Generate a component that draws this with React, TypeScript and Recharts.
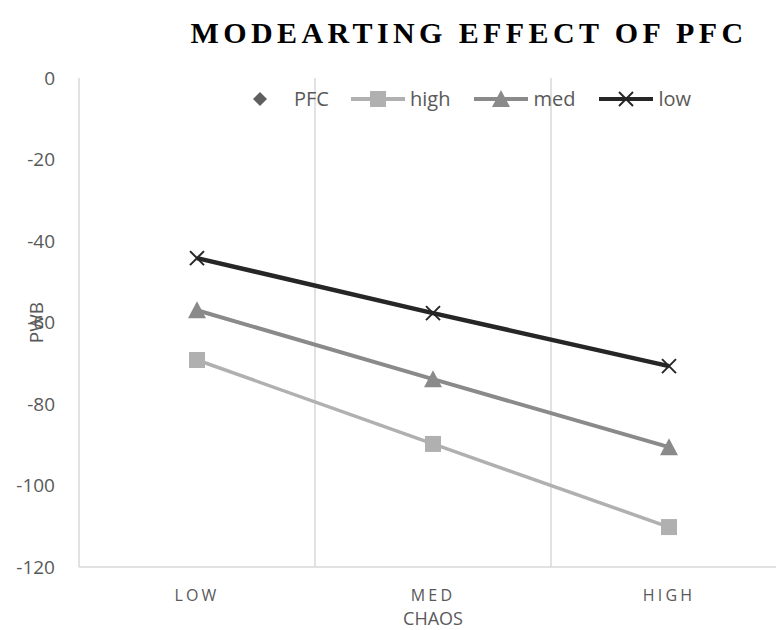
import React from 'react';
import { LineChart, Line, XAxis, YAxis, ReferenceLine, Legend } from 'recharts';

const categories = ['LOW', 'MED', 'HIGH'];
const highValues = [-69.2, -89.8, -110.2];
const medValues = [-57.0, -73.9, -90.6];
const lowValues = [-44.2, -57.7, -70.7];
const yTicks = [0, -20, -40, -60, -80, -100, -120];
const seriesOrder = ['PFC', 'high', 'med', 'low'];
const titleText = 'MODEARTING EFFECT OF PFC';
const xTitle = 'CHAOS';
const yTitle = 'PWB';

const data = categories.map((c, i) => ({
  x: i + 0.5,
  name: c,
  high: highValues[i],
  med: medValues[i],
  low: lowValues[i],
}));
const categoryPositions = categories.map((_, i) => i + 0.5);
const boundaries = categories.slice(1).map((_, i) => i + 1);

const AXIS = '#d9d9d9';
const TEXT = '#595959';
const FONT = '"Open Sans", sans-serif';

const COLORS: Record<string, string> = {
  PFC: '#5f5f5f',
  high: '#b0b0b0',
  med: '#8a8a8a',
  low: '#262626',
};

const Marker = ({ kind, cx, cy, color }: { kind: string; cx: number; cy: number; color: string }) => {
  if (kind === 'high') {
    return <rect x={cx - 8} y={cy - 8} width={16} height={16} fill={color} />;
  }
  if (kind === 'med') {
    return <polygon points={`${cx},${cy - 9} ${cx + 9},${cy + 8} ${cx - 9},${cy + 8}`} fill={color} />;
  }
  if (kind === 'low') {
    return (
      <g stroke={color} strokeWidth={2}>
        <line x1={cx - 7} y1={cy - 7} x2={cx + 7} y2={cy + 7} />
        <line x1={cx - 7} y1={cy + 7} x2={cx + 7} y2={cy - 7} />
      </g>
    );
  }
  return <polygon points={`${cx},${cy - 7} ${cx + 7},${cy} ${cx},${cy + 7} ${cx - 7},${cy}`} fill={color} />;
};

const makeDot = (kind: string) => (props: any) => {
  if (props.cx == null || props.cy == null) return <g key={`${kind}-${props.index}`} />;
  return (
    <g key={`${kind}-${props.index}`}>
      <Marker kind={kind} cx={props.cx} cy={props.cy} color={COLORS[kind]} />
    </g>
  );
};

const LegendContent = (props: any) => {
  const payload = [...(props.payload || [])].sort(
    (a: any, b: any) => seriesOrder.indexOf(a.value) - seriesOrder.indexOf(b.value)
  );
  return (
    <div style={{ display: 'flex', alignItems: 'center', fontFamily: FONT, fontSize: 20, color: TEXT }}>
      {payload.map((p: any) => {
        const name = p.value as string;
        const isPfc = name === 'PFC';
        return (
          <div key={name} style={{ display: 'flex', alignItems: 'center', marginRight: isPfc ? 22 : 24 }}>
            <svg width={isPfc ? 22 : 54} height={24} style={{ marginRight: isPfc ? 22 : 5 }}>
              {!isPfc && <line x1={0} y1={12} x2={54} y2={12} stroke={COLORS[name]} strokeWidth={4} />}
              <Marker kind={name} cx={isPfc ? 10 : 27} cy={12} color={COLORS[name]} />
            </svg>
            <span>{name}</span>
          </div>
        );
      })}
    </div>
  );
};

const YLabel = (props: any) => {
  const vb = props.viewBox || { x: 0, y: 0, width: 0, height: 0 };
  const cx = 36;
  const cy = vb.y + vb.height / 2;
  return (
    <text
      x={cx}
      y={cy}
      transform={`rotate(-90 ${cx} ${cy})`}
      textAnchor="middle"
      dominantBaseline="central"
      fill={TEXT}
      fontSize={19}
      fontFamily={FONT}
    >
      {yTitle}
    </text>
  );
};

export default function App() {
  return (
    <div style={{ position: 'absolute', left: 0, top: 0, width: 776, height: 630, overflow: 'hidden', background: '#fff' }}>
      <div
        style={{
          position: 'absolute',
          top: 16,
          left: 469,
          transform: 'translateX(-50%)',
          whiteSpace: 'nowrap',
          fontFamily: '"Liberation Serif", "Times New Roman", serif',
          fontWeight: 'bold',
          fontSize: 30,
          letterSpacing: 4.4,
          color: '#000',
        }}
      >
        {titleText}
      </div>
      <LineChart width={800} height={630} data={data} margin={{ top: 78, right: 13, left: 0, bottom: 0 }}>
        <XAxis
          dataKey="x"
          type="number"
          domain={[0, categories.length]}
          ticks={categoryPositions}
          interval={0}
          tickFormatter={(v: number) => categories[Math.round(v - 0.5)]}
          stroke={AXIS}
          strokeWidth={1.5}
          tickLine={false}
          tickSize={0}
          tickMargin={23}
          height={63}
          tick={{ fill: TEXT, fontSize: 16, fontFamily: FONT, letterSpacing: 3.2 }}
          label={{ value: xTitle, position: 'insideBottom', offset: 5, fill: TEXT, fontSize: 18, fontFamily: FONT }}
        />
        <YAxis
          type="number"
          domain={[-120, 0]}
          ticks={yTicks}
          interval={0}
          width={79}
          stroke={AXIS}
          strokeWidth={1.5}
          tickLine={false}
          tickSize={0}
          tickMargin={24}
          tick={{ fill: TEXT, fontSize: 19, fontFamily: FONT }}
          label={<YLabel />}
        />
        {boundaries.map((b) => (
          <ReferenceLine key={b} x={b} stroke={AXIS} strokeWidth={1.5} />
        ))}
        <Legend
          verticalAlign="middle"
          align="center"
          layout="horizontal"
          content={<LegendContent />}
          wrapperStyle={{ position: 'absolute', top: 85, left: 250, width: 540 }}
        />
        <Line name="PFC" dataKey="pfc" stroke={COLORS.PFC} isAnimationActive={false} dot={false} legendType="diamond" />
        <Line name="high" dataKey="high" stroke={COLORS.high} strokeWidth={3.5} isAnimationActive={false} dot={makeDot('high')} />
        <Line name="med" dataKey="med" stroke={COLORS.med} strokeWidth={4} isAnimationActive={false} dot={makeDot('med')} />
        <Line name="low" dataKey="low" stroke={COLORS.low} strokeWidth={4.5} isAnimationActive={false} dot={makeDot('low')} />
      </LineChart>
    </div>
  );
}
